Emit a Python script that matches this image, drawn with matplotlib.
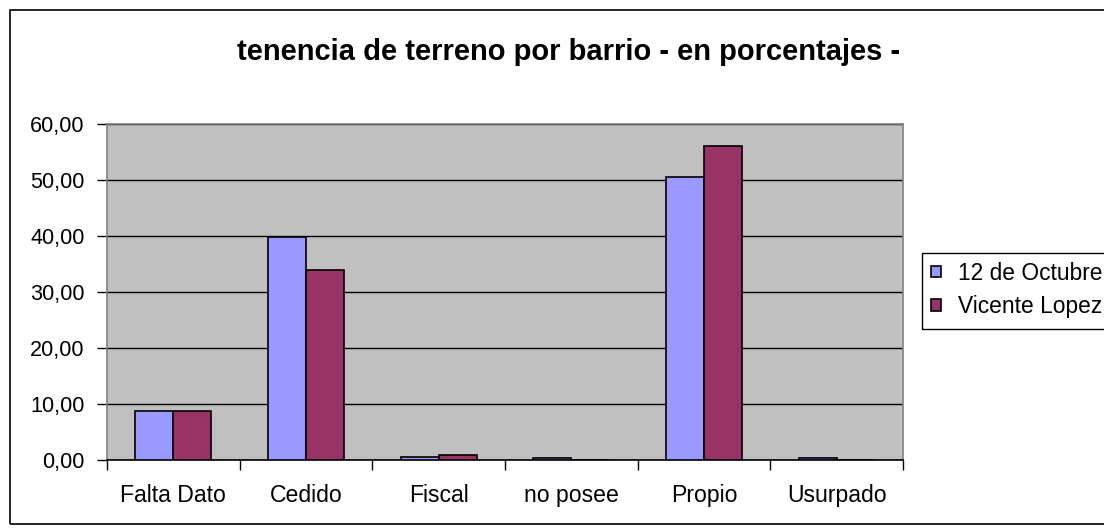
import matplotlib
matplotlib.use("Agg")
import matplotlib.pyplot as plt
from matplotlib.patches import Rectangle
import numpy as np

categories = ["Falta Dato", "Cedido", "Fiscal", "no posee", "Propio", "Usurpado"]
series_names = ["12 de Octubre", "Vicente Lopez"]
octubre = [8.7, 39.8, 0.6, 0.3, 50.6, 0.3]
vicente = [8.7, 33.9, 0.95, 0.0, 56.1, 0.0]
yticks = [0, 10, 20, 30, 40, 50, 60]
title = "tenencia de terreno por barrio - en porcentajes -"

plt.rcParams['font.family'] = ['Liberation Sans', 'DejaVu Sans']

W, H = 1104, 528
fig = plt.figure(figsize=(W/100, H/100), dpi=100)
fig.patch.set_facecolor("white")

# outer chart border
fig.patches.append(Rectangle((10/W, 4/H), 1.2, (518-4)/H, transform=fig.transFigure,
                             fill=False, edgecolor="black", linewidth=1.2))
# legend box (extends past the right edge like the reference)
fig.patches.append(Rectangle((922/W, 1 - 329/H), 1.2, 76/H, transform=fig.transFigure,
                             fill=False, edgecolor="black", linewidth=1.0))

ax = fig.add_axes([107/W, (528-460)/H, (903-107)/W, (460-124)/H])
ax.set_facecolor("#C0C0C0")

x = np.arange(len(categories))
bw = 0.286
ax.bar(x - bw/2, octubre, width=bw, color="#9999FF", edgecolor="black", linewidth=1.2,
       label=series_names[0], zorder=3)
ax.bar(x + bw/2, vicente, width=bw, color="#993366", edgecolor="black", linewidth=1.2,
       label=series_names[1], zorder=3)

ax.set_xlim(-0.5, len(categories) - 0.5)
ax.set_ylim(0, 60)
ax.set_yticks(yticks)
ax.set_yticklabels([f"{v:.2f}".replace(".", ",") for v in yticks], fontsize=15.6)
ax.yaxis.grid(True, color="black", linewidth=1.0, zorder=1)
ax.set_axisbelow(True)

ax.set_xticks(x)
ax.set_xticklabels(categories, fontsize=16.6)
ax.set_xticks(np.arange(len(categories) + 1) - 0.5, minor=True)
ax.tick_params(axis="x", which="major", length=0, pad=17)
ax.tick_params(axis="x", which="minor", length=7, width=1, color="black", direction="out")
ax.tick_params(axis="y", length=7, width=1, color="black", direction="out", pad=9)

for s in ["top", "right", "left"]:
    ax.spines[s].set_color("#808080")
    ax.spines[s].set_linewidth(1.2)
ax.spines["bottom"].set_color("black")
ax.spines["bottom"].set_linewidth(1.2)

fig.text(569/W, 1 - 52/H, title, ha="center", va="center", fontsize=21, fontweight="bold")

leg = ax.legend(loc="center left", bbox_to_anchor=(931/W, 1 - 290/H), bbox_transform=fig.transFigure,
                fontsize=16.4, frameon=False, handlelength=0.42, handleheight=0.42,
                handletextpad=0.75, borderpad=0.0, labelspacing=0.47, borderaxespad=0)
leg.set_zorder(10)

fig.savefig("out.png", dpi=100)
